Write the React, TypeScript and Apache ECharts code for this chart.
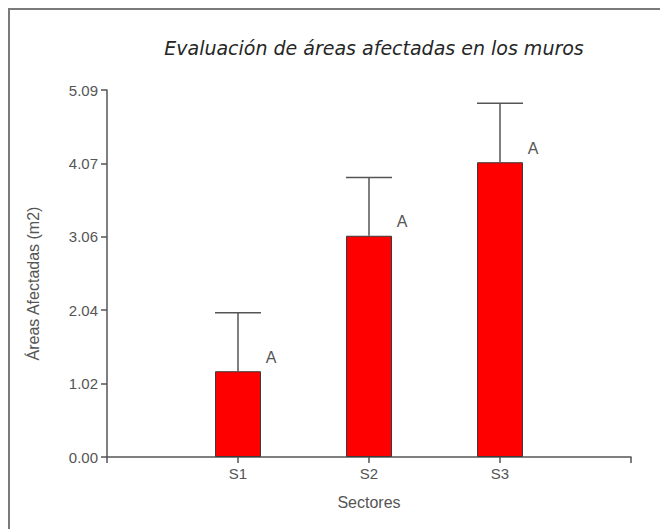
import React, { useEffect, useRef } from "react";
import * as echarts from "echarts";

// Sector categories and measured wall damage (m2)
const sectors = ["S1", "S2", "S3"];
const meanArea = [1.19, 3.07, 4.09];
const errorTop = [2.0, 3.88, 4.91]; // mean + standard deviation
const groupLetters = ["A", "A", "A"];

// Y axis scale: five equal steps up to the axis maximum
const yMax = 5.0925;
const yStep = 1.0185;

const FONT = "'Liberation Sans', Arial, sans-serif";

export default function App() {
  const ref = useRef<HTMLDivElement>(null);

  useEffect(() => {
    if (!ref.current) return;
    const chart = echarts.init(ref.current, null, { renderer: "svg" });

    const barData = sectors.map((_, i) => [i + 1, meanArea[i]]);
    const errData = sectors.map((_, i) => [i + 1, meanArea[i], errorTop[i], groupLetters[i]]);

    chart.setOption({
      animation: false,
      backgroundColor: "#ffffff",
      title: {
        text: "Evaluación de áreas afectadas en los muros",
        left: 369,
        top: 33,
        textAlign: "center",
        textStyle: {
          fontFamily: "'DejaVu Sans', sans-serif",
          fontSize: 19,
          fontStyle: "italic",
          fontWeight: "normal",
          color: "#262626",
        },
      },
      graphic: [
        {
          type: "rect",
          shape: { x: 9, y: 9, width: 700, height: 600 },
          style: { fill: "none", stroke: "#7a7a7a", lineWidth: 2 },
          silent: true,
        },
      ],
      grid: { left: 107, right: 29, top: 90, bottom: 72 },
      xAxis: {
        type: "value",
        min: 0,
        max: 4,
        interval: 1,
        name: "Sectores",
        nameLocation: "middle",
        nameGap: 37,
        nameTextStyle: { fontFamily: FONT, fontSize: 16, color: "#555" },
        axisLine: { lineStyle: { color: "#555", width: 1.5 } },
        axisTick: { show: true, length: 6, lineStyle: { color: "#555", width: 1.5 } },
        axisLabel: {
          fontFamily: FONT,
          fontSize: 15,
          color: "#555",
          margin: 9,
          formatter: (v: number) => sectors[v - 1] ?? "",
        },
        splitLine: { show: false },
      },
      yAxis: {
        type: "value",
        min: 0,
        max: yMax,
        interval: yStep,
        name: "Áreas Afectadas (m2)",
        nameLocation: "middle",
        nameGap: 66,
        nameTextStyle: {
          fontFamily: FONT,
          fontSize: 16,
          color: "#555",
          padding: [0, 20, 0, 0],
        },
        axisLine: { show: true, lineStyle: { color: "#555", width: 1.5 } },
        axisTick: { show: true, length: 6, lineStyle: { color: "#555", width: 1.5 } },
        axisLabel: {
          fontFamily: FONT,
          fontSize: 15,
          color: "#555",
          margin: 9,
          formatter: (v: number) => v.toFixed(2),
        },
        splitLine: { show: false },
      },
      series: [
        {
          type: "bar",
          data: barData,
          barWidth: 46,
          itemStyle: { color: "#ff0000", borderColor: "#3a3a3a", borderWidth: 1 },
          z: 2,
        },
        {
          type: "custom",
          data: errData,
          z: 3,
          renderItem: (params: any, api: any) => {
            const x = api.value(0);
            const base = api.coord([x, api.value(1)]);
            const top = api.coord([x, api.value(2)]);
            const half = 23;
            return {
              type: "group",
              children: [
                {
                  type: "line",
                  shape: { x1: base[0], y1: base[1], x2: top[0], y2: top[1] },
                  style: { stroke: "#555", lineWidth: 1.5 },
                },
                {
                  type: "line",
                  shape: { x1: top[0] - half, y1: top[1], x2: top[0] + half, y2: top[1] },
                  style: { stroke: "#555", lineWidth: 1.5 },
                },
                {
                  type: "text",
                  x: base[0] + 33,
                  y: base[1] - 14,
                  style: {
                    text: String(api.value(3)),
                    fontFamily: FONT,
                    fontSize: 16,
                    fill: "#555",
                    align: "center",
                    verticalAlign: "middle",
                  },
                },
              ],
            };
          },
        },
      ],
    });

    return () => chart.dispose();
  }, []);

  return (
    <div
      ref={ref}
      style={{ position: "fixed", left: 0, top: 0, width: 660, height: 529, background: "#fff" }}
    />
  );
}
